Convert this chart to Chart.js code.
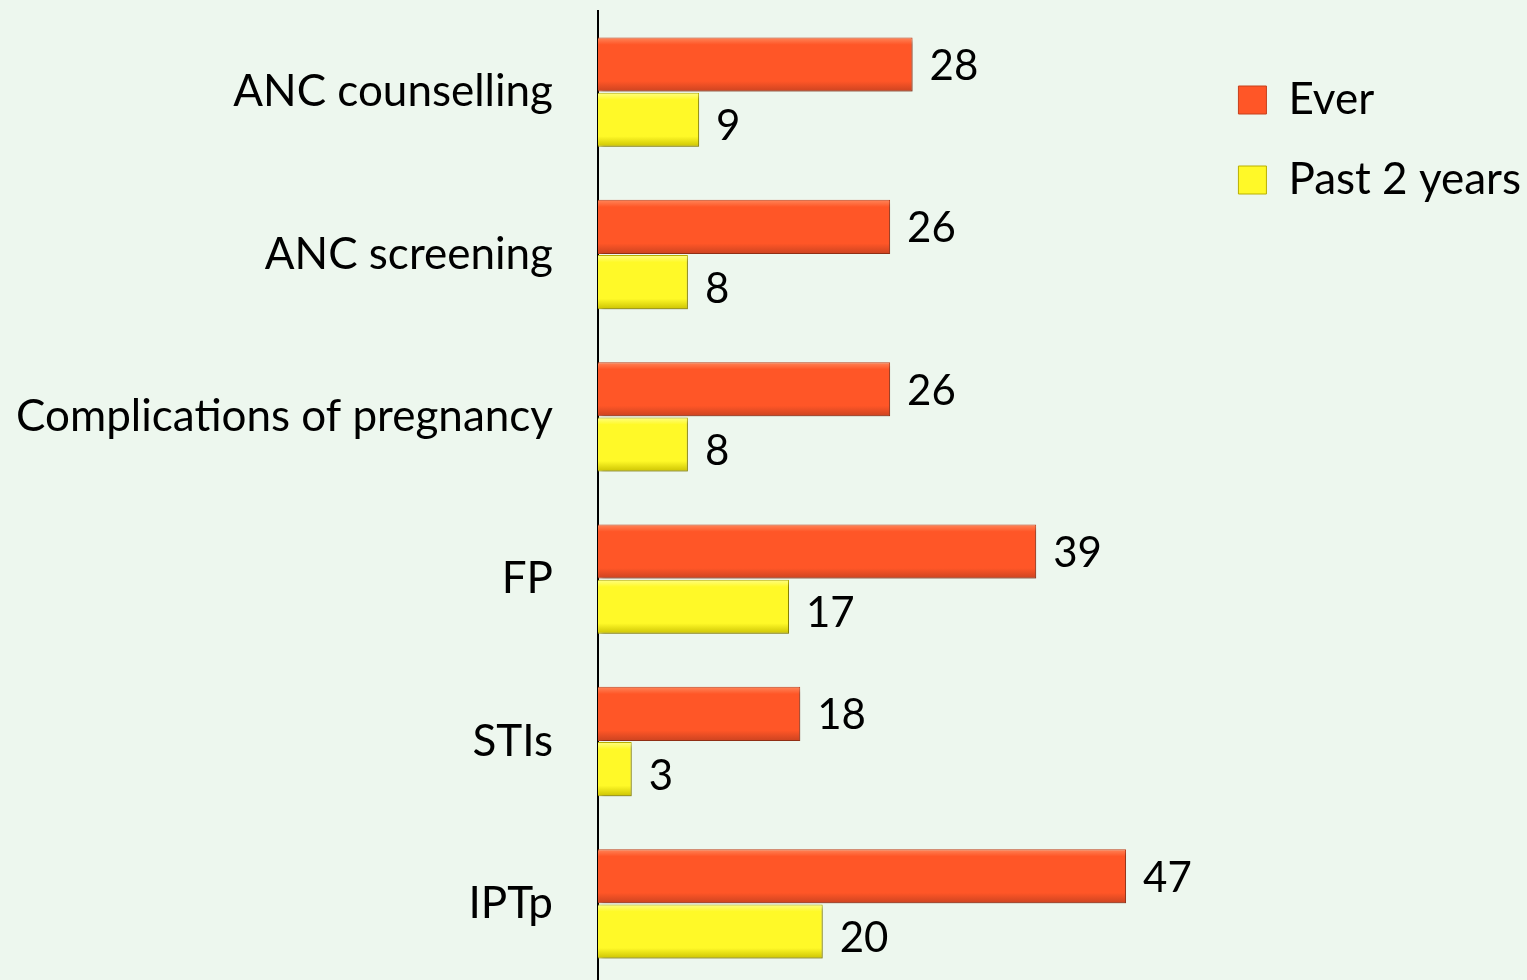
<!DOCTYPE html>
<html>
<head>
<meta charset="utf-8">
<script src="https://cdn.jsdelivr.net/npm/chart.js@4.4.1/dist/chart.umd.min.js"></script>
<style>
  html, body { margin: 0; padding: 0; background: #EDF7EE; overflow: hidden; }
  #wrap { width: 1527px; height: 985px; position: relative; }
</style>
</head>
<body>
<div id="wrap"><canvas id="chart"></canvas></div>
<script>
const categories = ['ANC counselling', 'ANC screening', 'Complications of pregnancy', 'FP', 'STIs', 'IPTp']
const everValues = [28, 26, 26, 39, 18, 47]
const pastTwoYearsValues = [9, 8, 8, 17, 3, 20]
const seriesNames = ['Ever', 'Past 2 years']
const seriesColors = ['#FF5627', '#FFF928']
const seriesEdges = ['#C5401C', '#B9B000']

const FONT = 'Lato, "Open Sans", sans-serif'
const CAT_PCT = 0.68

// vertical bevel-like gradient for each bar, located through the y scale
function bevel(base, light, dark) {
  return (c) => {
    const chart = c.chart
    const y = chart.scales.y
    if (!y || !chart.chartArea || c.type !== 'data') return base
    const band = chart.chartArea.height / categories.length * CAT_PCT / 2
    const mid = y.getPixelForValue(c.dataIndex)
    const top = c.datasetIndex === 0 ? mid - band : mid
    const g = chart.ctx.createLinearGradient(0, top, 0, top + band)
    g.addColorStop(0, light)
    g.addColorStop(0.14, base)
    g.addColorStop(0.8, base)
    g.addColorStop(1, dark)
    return g
  }
}

// values printed just past the end of each bar
const barValues = {
  id: 'barValues',
  afterDatasetsDraw(chart) {
    const ctx = chart.ctx
    ctx.save()
    ctx.font = '42px ' + FONT
    ctx.fillStyle = '#000'
    ctx.textBaseline = 'middle'
    ctx.textAlign = 'left'
    chart.data.datasets.forEach((ds, i) => {
      const meta = chart.getDatasetMeta(i)
      meta.data.forEach((bar, j) => {
        ctx.fillText(ds.data[j], bar.x + 17, bar.y + (i === 1 ? 7 : 2))
      })
    })
    ctx.restore()
  }
}

// soft drop shadow under the bars
const barShadow = {
  id: 'barShadow',
  beforeDatasetsDraw(chart) {
    const ctx = chart.ctx
    ctx.save()
    ctx.shadowColor = 'rgba(0,0,0,0.3)'
    ctx.shadowOffsetX = 3
    ctx.shadowOffsetY = 3
    ctx.shadowBlur = 4
  },
  afterDatasetsDraw(chart) {
    chart.ctx.restore()
  }
}

new Chart(document.getElementById('chart'), {
  type: 'bar',
  data: {
    labels: categories,
    datasets: [{
      label: seriesNames[0],
      data: everValues,
      backgroundColor: bevel(seriesColors[0], '#FF8A5E', '#C94220'),
      borderColor: seriesEdges[0],
      borderWidth: 1,
      categoryPercentage: CAT_PCT,
      barPercentage: 0.98
    }, {
      label: seriesNames[1],
      data: pastTwoYearsValues,
      backgroundColor: bevel(seriesColors[1], '#FFFF8C', '#C9C000'),
      borderColor: seriesEdges[1],
      borderWidth: 1,
      categoryPercentage: CAT_PCT,
      barPercentage: 0.98
    }]
  },
  options: {
    indexAxis: 'y',
    responsive: true,
    maintainAspectRatio: false,
    animation: false,
    layout: { padding: { top: 11, right: -4 } },
    scales: {
      x: { display: false, min: 0, max: 53.8 },
      y: {
        afterFit(scale) {
          scale.width = 598
          scale.paddingTop = 0
          scale.paddingBottom = 0
        },
        grid: { display: false, drawTicks: false },
        border: { display: true, color: '#000', width: 2 },
        ticks: { color: '#000', padding: 45, font: { family: FONT, size: 44 } }
      }
    },
    plugins: {
      tooltip: { enabled: false },
      legend: {
        position: 'right',
        align: 'start',
        title: { display: true, text: '', padding: { top: 19, bottom: 0 }, font: { size: 10 } },
        labels: {
          color: '#000',
          boxWidth: 28,
          boxHeight: 28,
          padding: 36,
          font: { family: FONT, size: 44 },
          generateLabels(chart) {
            const items = Chart.defaults.plugins.legend.labels.generateLabels(chart)
            items.forEach((it, i) => {
              it.fillStyle = seriesColors[i]
              it.strokeStyle = seriesEdges[i]
              it.lineWidth = 1
            })
            return items
          }
        }
      }
    }
  },
  plugins: [barShadow, barValues]
})
</script>
</body>
</html>
